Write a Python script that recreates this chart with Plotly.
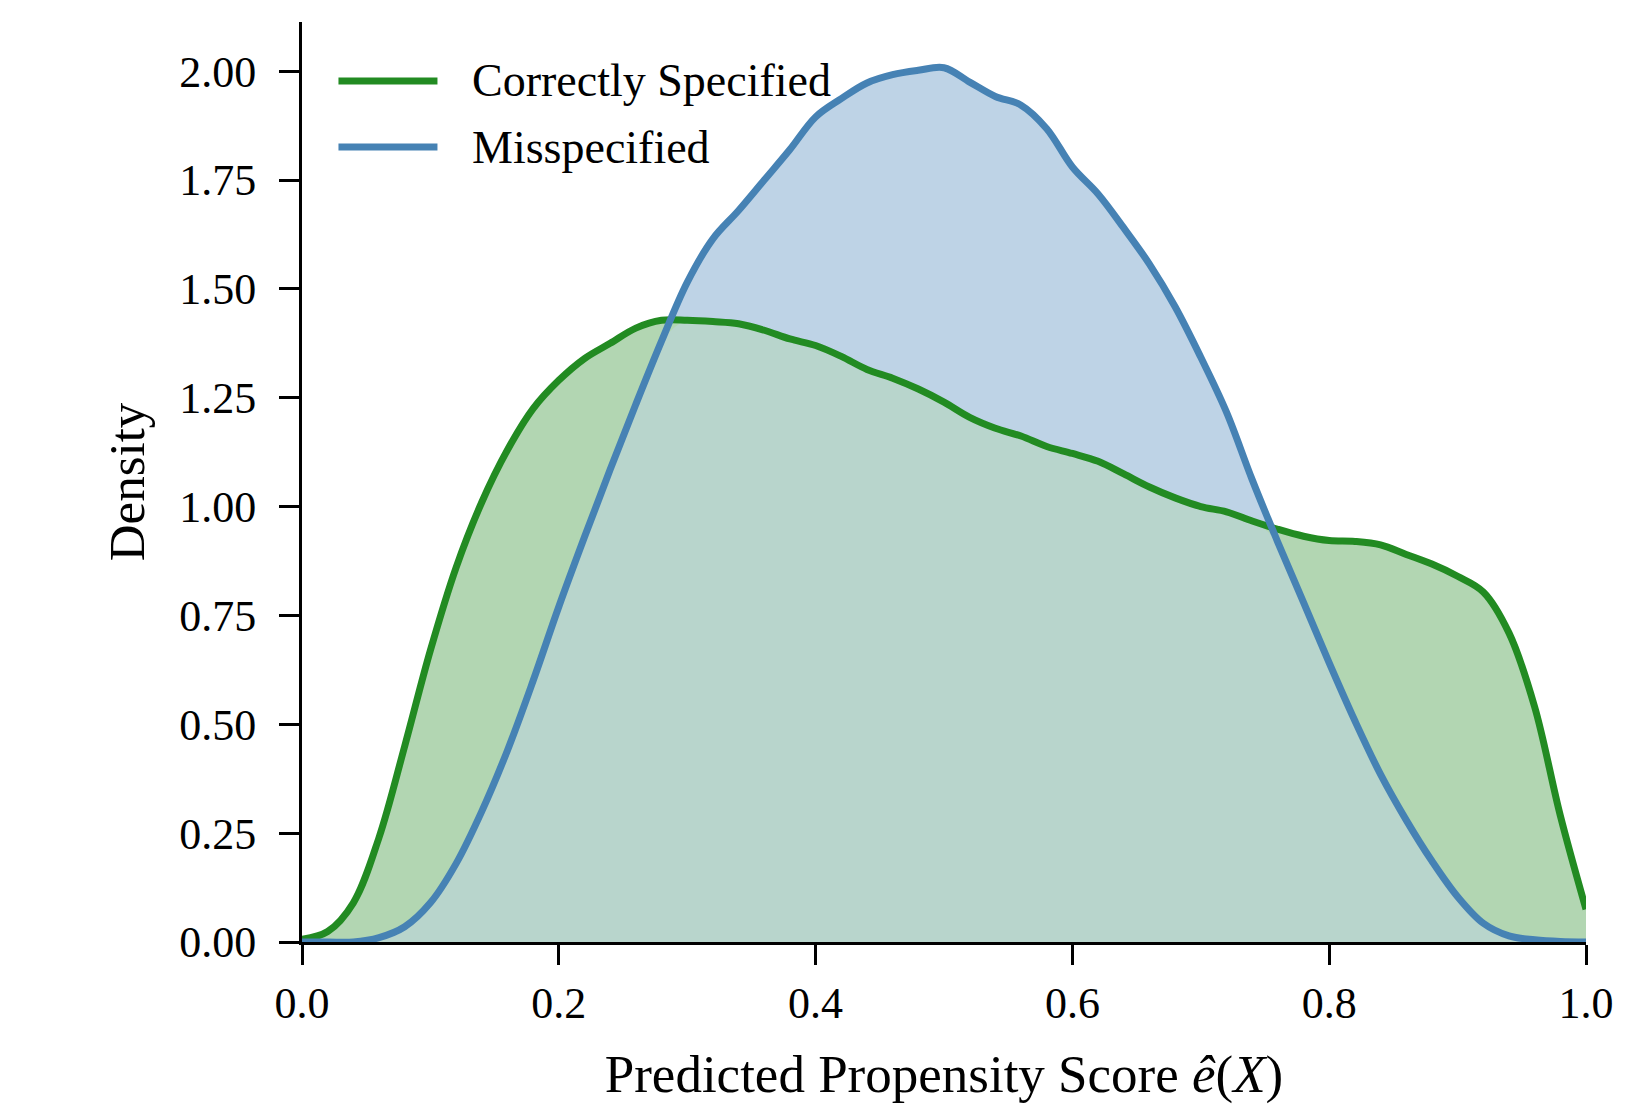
import plotly.graph_objects as go

# ---- data ----
series_names = ["Correctly Specified", "Misspecified"]

x_grid = [0.00, 0.02, 0.04, 0.06, 0.08, 0.10, 0.12, 0.14, 0.16, 0.18,
          0.20, 0.22, 0.24, 0.26, 0.28, 0.30, 0.32, 0.34, 0.36, 0.38,
          0.40, 0.42, 0.44, 0.46, 0.48, 0.50, 0.52, 0.54, 0.56, 0.58,
          0.60, 0.62, 0.64, 0.66, 0.68, 0.70, 0.72, 0.74, 0.76, 0.78,
          0.80, 0.82, 0.84, 0.86, 0.88, 0.90, 0.92, 0.94, 0.96, 0.98, 1.00]

density_correct = [0.006, 0.024, 0.09, 0.24, 0.45, 0.67, 0.86, 1.01, 1.13, 1.225,
                   1.29, 1.34, 1.375, 1.41, 1.428, 1.428, 1.425, 1.42, 1.405, 1.385,
                   1.37, 1.345, 1.315, 1.295, 1.27, 1.24, 1.205, 1.18, 1.162, 1.138,
                   1.122, 1.104, 1.075, 1.045, 1.02, 1.0, 0.988, 0.967, 0.948, 0.932,
                   0.922, 0.92, 0.912, 0.89, 0.868, 0.84, 0.804, 0.71, 0.54, 0.29, 0.075]

density_mis = [0.0, 0.0, 0.0, 0.01, 0.035, 0.09, 0.18, 0.30, 0.44, 0.60,
               0.77, 0.93, 1.085, 1.235, 1.38, 1.515, 1.615, 1.68, 1.75, 1.82,
               1.895, 1.937, 1.973, 1.992, 2.002, 2.008, 1.975, 1.942, 1.922, 1.868,
               1.78, 1.718, 1.64, 1.557, 1.459, 1.343, 1.217, 1.062, 0.918, 0.78,
               0.641, 0.508, 0.385, 0.28, 0.186, 0.104, 0.043, 0.014, 0.005, 0.001, 0.0]

y_ticks = [0.0, 0.25, 0.5, 0.75, 1.0, 1.25, 1.5, 1.75, 2.0]
x_ticks = [0.0, 0.2, 0.4, 0.6, 0.8, 1.0]

line_colors = ["#228B22", "#4682B4"]
fill_colors = ["rgb(178,214,178)", "rgb(190,211,230)"]
overlap_color = "rgb(184,213,204)"

ys = [density_correct, density_mis]
overlap = [min(a, b) for a, b in zip(density_correct, density_mis)]

SM = 1.0
LW = 7
fig = go.Figure()
# fills: blue, green, then the overlapping part
for i in [1, 0]:
    fig.add_trace(go.Scatter(x=x_grid, y=ys[i], mode="lines",
                             line=dict(width=0, shape="spline", smoothing=SM),
                             fill="tozeroy", fillcolor=fill_colors[i],
                             showlegend=False, hoverinfo="skip"))
fig.add_trace(go.Scatter(x=x_grid, y=overlap, mode="lines",
                         line=dict(width=0, shape="spline", smoothing=SM),
                         fill="tozeroy", fillcolor=overlap_color,
                         showlegend=False, hoverinfo="skip"))
# lines on top
for i in range(2):
    fig.add_trace(go.Scatter(x=x_grid, y=ys[i], mode="lines", name=series_names[i],
                             line=dict(color=line_colors[i], width=LW, shape="spline", smoothing=SM),
                             showlegend=False))

FONT = "Liberation Serif, Times New Roman, serif"

# legend with long line handles like the reference
leg_y = [0.936, 0.864]
for i in range(2):
    fig.add_shape(type="line", xref="paper", yref="paper", x0=0.0284, x1=0.1055,
                  y0=leg_y[i], y1=leg_y[i], line=dict(color=line_colors[i], width=LW))
    fig.add_annotation(xref="paper", yref="paper", x=0.1305, y=leg_y[i], text=series_names[i],
                       showarrow=False, xanchor="left", yanchor="middle",
                       font=dict(family=FONT, size=46, color="black"))

fig.update_layout(
    width=1641, height=1108,
    margin=dict(l=301.5, r=55, t=21.7, b=166.3),
    plot_bgcolor="white", paper_bgcolor="white",
    font=dict(family=FONT, size=44, color="black"),
)
fig.update_xaxes(
    range=[0, 1], tickvals=x_ticks, tickformat=".1f",
    showline=True, linecolor="black", linewidth=3,
    ticks="outside", ticklen=20, tickwidth=3, tickcolor="black",
    showgrid=False, zeroline=False, ticklabelstandoff=0,
    title=dict(text="Predicted Propensity Score <i>ê</i>(<i>X</i>)",
               font=dict(family=FONT, size=53), standoff=29),
    tickfont=dict(family=FONT, size=44),
)
fig.update_yaxes(
    range=[0, 2.113], tickvals=y_ticks, tickformat=".2f",
    showline=True, linecolor="black", linewidth=3,
    ticks="outside", ticklen=20, tickwidth=3, tickcolor="black",
    showgrid=False, zeroline=False, ticklabelstandoff=14,
    title=dict(text="Density", font=dict(family=FONT, size=51), standoff=19),
    tickfont=dict(family=FONT, size=44),
)

fig.write_html("out.html")
